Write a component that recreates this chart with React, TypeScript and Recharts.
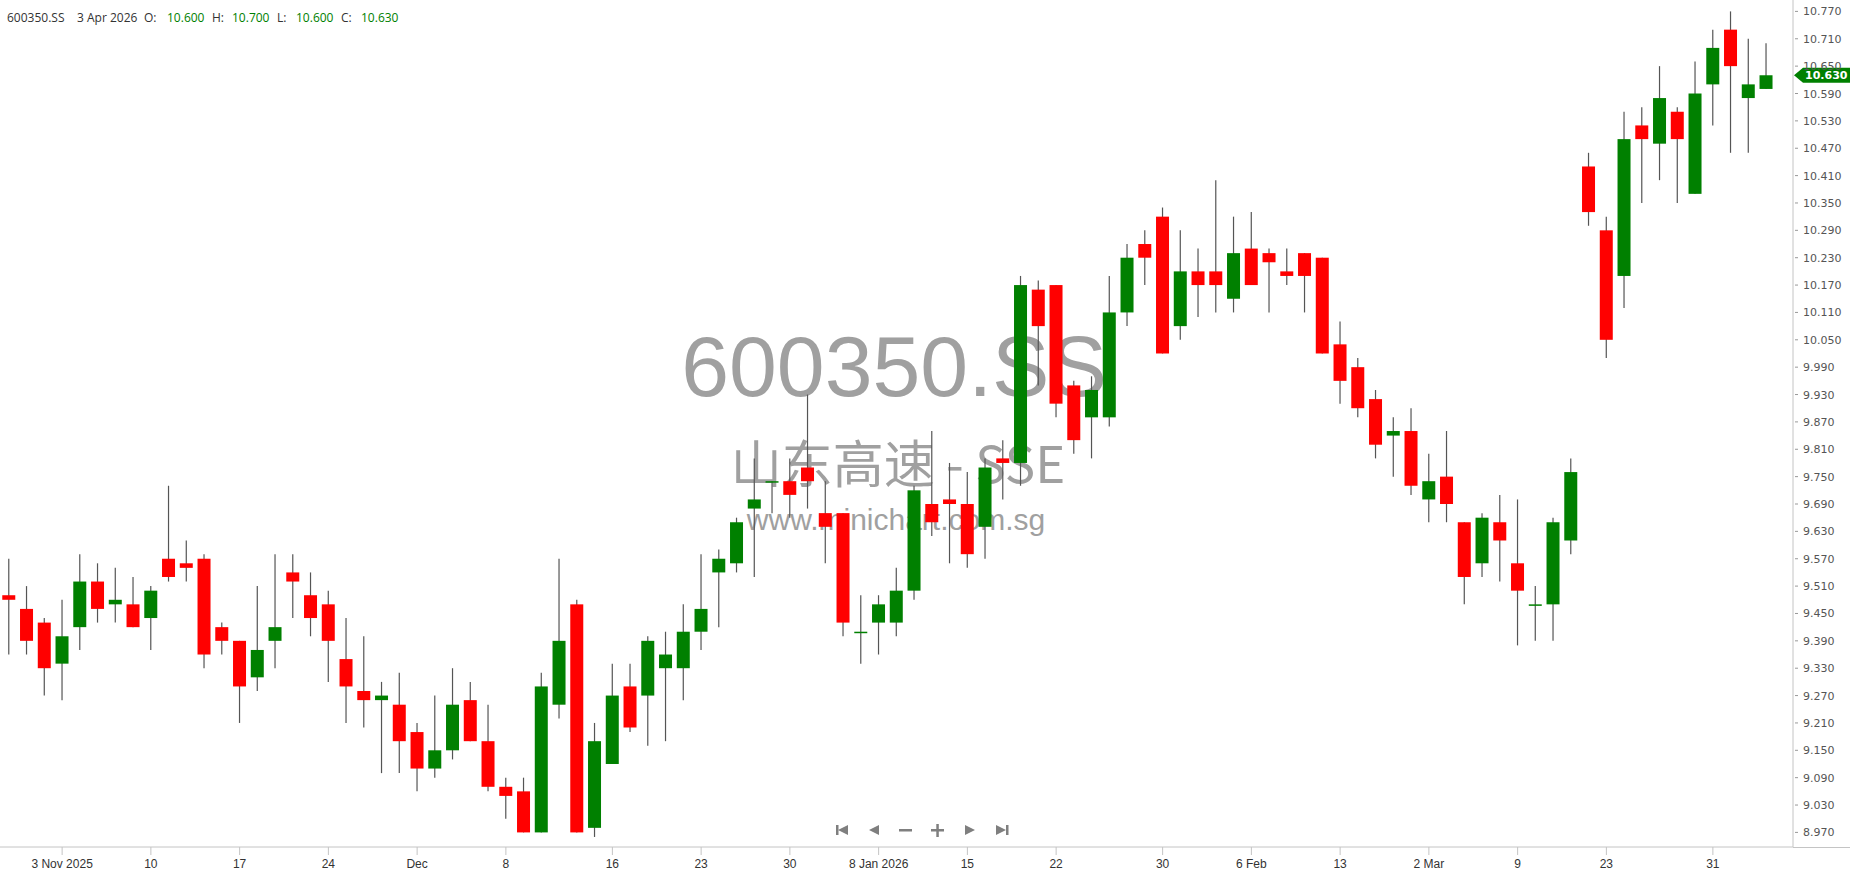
import { ComposedChart, Bar, XAxis, YAxis, ReferenceLine } from "recharts";

const UP_COLOR = "#008000";
const DOWN_COLOR = "#FF0000";
const WICK_COLOR = "#555555";
const AXIS_COLOR = "#c4c4c4";

const DATES = [
  "2025-10-29", "2025-10-30", "2025-10-31",
  "2025-11-03", "2025-11-04", "2025-11-05", "2025-11-06", "2025-11-07",
  "2025-11-10", "2025-11-11", "2025-11-12", "2025-11-13", "2025-11-14",
  "2025-11-17", "2025-11-18", "2025-11-19", "2025-11-20", "2025-11-21",
  "2025-11-24", "2025-11-25", "2025-11-26", "2025-11-27", "2025-11-28",
  "2025-12-01", "2025-12-02", "2025-12-03", "2025-12-04", "2025-12-05",
  "2025-12-08", "2025-12-09", "2025-12-10", "2025-12-11", "2025-12-12",
  "2025-12-15", "2025-12-16", "2025-12-17", "2025-12-18", "2025-12-19",
  "2025-12-22", "2025-12-23", "2025-12-24", "2025-12-25", "2025-12-26",
  "2025-12-29", "2025-12-30", "2025-12-31",
  "2026-01-05", "2026-01-06", "2026-01-07", "2026-01-08", "2026-01-09",
  "2026-01-12", "2026-01-13", "2026-01-14", "2026-01-15", "2026-01-16",
  "2026-01-19", "2026-01-20", "2026-01-21", "2026-01-22", "2026-01-23",
  "2026-01-26", "2026-01-27", "2026-01-28", "2026-01-29", "2026-01-30",
  "2026-02-02", "2026-02-03", "2026-02-04", "2026-02-05", "2026-02-06",
  "2026-02-09", "2026-02-10", "2026-02-11", "2026-02-12", "2026-02-13",
  "2026-02-24", "2026-02-25", "2026-02-26", "2026-02-27",
  "2026-03-02", "2026-03-03", "2026-03-04", "2026-03-05", "2026-03-06",
  "2026-03-09", "2026-03-10", "2026-03-11", "2026-03-12", "2026-03-13",
  "2026-03-23", "2026-03-24", "2026-03-25", "2026-03-26", "2026-03-27",
  "2026-03-30", "2026-03-31",
  "2026-04-01", "2026-04-02", "2026-04-03",
];

const OPEN = [
  9.49, 9.46, 9.43,
  9.34, 9.42, 9.52, 9.47, 9.47,
  9.44, 9.57, 9.56, 9.57, 9.42,
  9.39, 9.31, 9.39, 9.54, 9.49,
  9.47, 9.35, 9.28, 9.26, 9.25,
  9.19, 9.11, 9.15, 9.26, 9.17,
  9.07, 9.06, 8.97, 9.25, 9.47,
  8.98, 9.12, 9.29, 9.27, 9.33,
  9.33, 9.41, 9.54, 9.56, 9.68,
  9.74, 9.74, 9.77,
  9.67, 9.67, 9.41, 9.43, 9.43,
  9.50, 9.69, 9.70, 9.69, 9.64,
  9.79, 9.78, 10.16, 10.17, 9.95,
  9.88, 9.88, 10.11, 10.26, 10.32,
  10.08, 10.20, 10.20, 10.14, 10.25,
  10.24, 10.20, 10.24, 10.23, 10.04,
  9.99, 9.92, 9.84, 9.85,
  9.70, 9.75, 9.65, 9.56, 9.65,
  9.56, 9.47, 9.47, 9.61, 10.43,
  10.29, 10.19, 10.52, 10.48, 10.55,
  10.37, 10.61,
  10.73, 10.58, 10.60,
];

const HIGH = [
  9.57, 9.51, 9.44,
  9.48, 9.58, 9.56, 9.55, 9.53,
  9.51, 9.73, 9.61, 9.58, 9.43,
  9.39, 9.51, 9.58, 9.58, 9.54,
  9.50, 9.44, 9.40, 9.30, 9.32,
  9.21, 9.27, 9.33, 9.30, 9.25,
  9.09, 9.09, 9.32, 9.57, 9.48,
  9.21, 9.34, 9.34, 9.40, 9.41,
  9.47, 9.58, 9.59, 9.66, 9.79,
  9.74, 9.79, 9.93,
  9.74, 9.67, 9.49, 9.49, 9.55,
  9.73, 9.85, 9.78, 9.76, 9.79,
  9.83, 10.19, 10.18, 10.17, 9.96,
  9.97, 10.19, 10.26, 10.29, 10.34,
  10.29, 10.25, 10.40, 10.32, 10.33,
  10.25, 10.25, 10.24, 10.23, 10.09,
  10.01, 9.94, 9.88, 9.90,
  9.80, 9.85, 9.65, 9.67, 9.71,
  9.70, 9.51, 9.66, 9.79, 10.46,
  10.32, 10.55, 10.56, 10.65, 10.56,
  10.66, 10.73,
  10.77, 10.71, 10.70,
];

const LOW = [
  9.36, 9.36, 9.27,
  9.26, 9.37, 9.43, 9.43, 9.42,
  9.37, 9.52, 9.52, 9.33, 9.36,
  9.21, 9.28, 9.33, 9.44, 9.40,
  9.30, 9.21, 9.20, 9.10, 9.10,
  9.06, 9.09, 9.13, 9.17, 9.06,
  9.00, 8.97, 8.97, 9.22, 8.97,
  8.96, 9.12, 9.19, 9.16, 9.17,
  9.26, 9.37, 9.42, 9.54, 9.53,
  9.67, 9.66, 9.68,
  9.56, 9.40, 9.34, 9.36, 9.40,
  9.48, 9.62, 9.56, 9.55, 9.57,
  9.70, 9.73, 9.95, 9.88, 9.80,
  9.79, 9.86, 10.08, 10.17, 10.02,
  10.05, 10.10, 10.11, 10.11, 10.17,
  10.11, 10.17, 10.11, 10.02, 9.91,
  9.88, 9.79, 9.75, 9.71,
  9.65, 9.65, 9.47, 9.53, 9.52,
  9.38, 9.39, 9.39, 9.58, 10.30,
  10.01, 10.12, 10.35, 10.40, 10.35,
  10.37, 10.52,
  10.46, 10.46, 10.60,
];

const CLOSE = [
  9.48, 9.39, 9.33,
  9.40, 9.52, 9.46, 9.48, 9.42,
  9.50, 9.53, 9.55, 9.36, 9.39,
  9.29, 9.37, 9.42, 9.52, 9.44,
  9.39, 9.29, 9.26, 9.27, 9.17,
  9.11, 9.15, 9.25, 9.17, 9.07,
  9.05, 8.97, 9.29, 9.39, 8.97,
  9.17, 9.27, 9.20, 9.39, 9.36,
  9.41, 9.46, 9.57, 9.65, 9.70,
  9.74, 9.71, 9.74,
  9.64, 9.43, 9.41, 9.47, 9.50,
  9.72, 9.65, 9.69, 9.58, 9.77,
  9.78, 10.17, 10.08, 9.91, 9.83,
  9.94, 10.11, 10.23, 10.23, 10.02,
  10.20, 10.17, 10.17, 10.24, 10.17,
  10.22, 10.19, 10.19, 10.02, 9.96,
  9.90, 9.82, 9.85, 9.73,
  9.74, 9.69, 9.53, 9.66, 9.61,
  9.50, 9.47, 9.65, 9.76, 10.33,
  10.05, 10.49, 10.49, 10.58, 10.49,
  10.59, 10.69,
  10.65, 10.61, 10.63,
];

const Y_TICKS = [
  10.77, 10.71, 10.65, 10.59, 10.53, 10.47, 10.41, 10.35, 10.29, 10.23,
  10.17, 10.11, 10.05, 9.99, 9.93, 9.87, 9.81, 9.75, 9.69, 9.63,
  9.57, 9.51, 9.45, 9.39, 9.33, 9.27, 9.21, 9.15, 9.09, 9.03, 8.97,
];

const X_TICK_DATES = [
  "2025-11-03", "2025-11-10", "2025-11-17", "2025-11-24", "2025-12-01",
  "2025-12-08", "2025-12-16", "2025-12-23", "2025-12-30", "2026-01-08",
  "2026-01-15", "2026-01-22", "2026-01-30", "2026-02-06", "2026-02-13",
  "2026-03-02", "2026-03-09", "2026-03-23", "2026-03-31",
];
const X_TICK_LABELS = [
  "3 Nov 2025", "10", "17", "24", "Dec",
  "8", "16", "23", "30", "8 Jan 2026",
  "15", "22", "30", "6 Feb", "13",
  "2 Mar", "9", "23", "31",
];

const LAST_PRICE = 10.63;
const Y_DOMAIN = [8.938, 10.795];

const data = DATES.map((date, i) => ({
  date,
  o: OPEN[i],
  h: HIGH[i],
  l: LOW[i],
  c: CLOSE[i],
  range: [LOW[i], HIGH[i]],
}));

const W = 1850;
const H = 874;

function Candle(props: any) {
  const { x, y, width, height, payload } = props;
  if (!payload) return null;
  const { o, h, l, c } = payload;
  const top = Math.min(y, y + height);
  const bot = Math.max(y, y + height);
  const k = h === l ? 0 : (bot - top) / (h - l);
  const yOf = (v: number) => top + (h - v) * k;
  const cx = x + width / 2;
  const up = c >= o;
  const bodyTop = yOf(Math.max(o, c));
  const bodyH = Math.max(yOf(Math.min(o, c)) - bodyTop, 1.5);
  const bw = 13;
  return (
    <g>
      <line x1={cx} x2={cx} y1={top} y2={bot} stroke={WICK_COLOR} strokeWidth={1.2} />
      <rect x={cx - bw / 2} y={bodyTop} width={bw} height={bodyH} fill={up ? UP_COLOR : DOWN_COLOR} />
    </g>
  );
}

function YTick({ x, y, payload }: any) {
  return (
    <g>
      <line x1={x + 2} x2={x + 5} y1={y} y2={y} stroke="#999" />
      <text x={x + 10} y={y + 4} fontSize={11} fill="#555" fontFamily="DejaVu Sans, Verdana, sans-serif">
        {Number(payload.value).toFixed(3)}
      </text>
    </g>
  );
}

function XTick({ x, y, payload }: any) {
  const idx = X_TICK_DATES.indexOf(payload.value);
  return (
    <text x={x} y={y + 13} textAnchor="middle" fontSize={12} fill="#333"
      fontFamily="'Liberation Sans Narrow', 'Liberation Sans', Arial, sans-serif">
      {idx >= 0 ? X_TICK_LABELS[idx] : ""}
    </text>
  );
}

function PriceTag(props: any) {
  const vb = props.viewBox || {};
  const x0 = (vb.x || 0) + (vb.width || 0);
  const y = vb.y || 0;
  return (
    <g>
      <polygon
        points={`${x0 + 1},${y} ${x0 + 10},${y - 7.5} ${W},${y - 7.5} ${W},${y + 7.5} ${x0 + 10},${y + 7.5}`}
        fill={UP_COLOR}
      />
      <text x={x0 + 12} y={y + 4} fontSize={11} fontWeight="bold" fill="#fff" fontFamily="DejaVu Sans, Verdana, sans-serif">
        {LAST_PRICE.toFixed(3)}
      </text>
    </g>
  );
}

function Header() {
  const label = { fill: "#333" };
  const val = { fill: UP_COLOR };
  const last = data[data.length - 1];
  return (
    <g fontFamily="'Open Sans', 'Noto Sans', sans-serif" fontSize={12}>
      <text x={7} y={22} {...label}>600350.SS</text>
      <text x={77} y={22} {...label}>3 Apr 2026</text>
      <text x={144} y={22} {...label}>O:</text>
      <text x={167} y={22} {...val}>{last.o.toFixed(3)}</text>
      <text x={212} y={22} {...label}>H:</text>
      <text x={232} y={22} {...val}>{last.h.toFixed(3)}</text>
      <text x={277} y={22} {...label}>L:</text>
      <text x={296} y={22} {...val}>{last.l.toFixed(3)}</text>
      <text x={341} y={22} {...label}>C:</text>
      <text x={361} y={22} {...val}>{last.c.toFixed(3)}</text>
    </g>
  );
}

function NavButtons() {
  const g = "#7f7f7f";
  return (
    <g fill={g}>
      <rect x={836} y={825} width={2.5} height={10} />
      <polygon points="838,830 848,825 848,835" />
      <polygon points="869,830 879,825 879,835" />
      <rect x={899} y={829} width={13} height={2.5} />
      <rect x={931} y={829} width={13} height={2.5} />
      <rect x={936.3} y={824} width={2.5} height={13} />
      <polygon points="975,830 965,825 965,835" />
      <polygon points="1006,830 996,825 996,835" />
      <rect x={1006} y={825} width={2.5} height={10} />
    </g>
  );
}

export default function App() {
  return (
    <div style={{ position: "relative", width: W, height: H, background: "#fff" }}>
      <style>{`body{margin:0;}`}</style>
      <svg width={W} height={H} style={{ position: "absolute", left: 0, top: 0 }}>
        <g fill="#a0a0a0" textAnchor="middle" fontFamily="'Liberation Sans', Arial, sans-serif">
          <text x={894} y={396} fontSize={86}>600350.SS</text>
          <text x={898} y={483} fontSize={51} fontFamily="'Noto Sans CJK SC', 'Liberation Sans', sans-serif">山东高速 - SSE</text>
          <text x={896} y={530} fontSize={30}>www.minichart.com.sg</text>
        </g>
      </svg>
      <div style={{ position: "absolute", left: 0, top: 0 }}>
        <ComposedChart
          width={W}
          height={H}
          data={data}
          margin={{ top: 0, right: 0, bottom: 0, left: 0 }}
        >
          <XAxis
            dataKey="date"
            type="category"
            ticks={X_TICK_DATES}
            interval={0}
            height={27}
            padding={{ left: 0, right: 18 }}
            axisLine={{ stroke: AXIS_COLOR }}
            tickLine={{ stroke: AXIS_COLOR }}
            tickSize={8}
            tickMargin={0}
            tick={<XTick />}
          />
          <YAxis
            orientation="right"
            type="number"
            domain={Y_DOMAIN}
            allowDataOverflow
            ticks={Y_TICKS}
            interval={0}
            width={57}
            tickSize={0}
            tickMargin={0}
            tickLine={false}
            axisLine={{ stroke: AXIS_COLOR }}
            tick={<YTick />}
          />
          <Bar dataKey="range" shape={<Candle />} isAnimationActive={false} />
          <ReferenceLine y={LAST_PRICE} stroke="none" ifOverflow="visible" label={<PriceTag />} />
        </ComposedChart>
      </div>
      <svg width={W} height={H} style={{ position: "absolute", left: 0, top: 0, pointerEvents: "none" }}>
        <Header />
        <NavButtons />
        <line x1={1793} x2={W} y1={847.5} y2={847.5} stroke={AXIS_COLOR} />
      </svg>
    </div>
  );
}
